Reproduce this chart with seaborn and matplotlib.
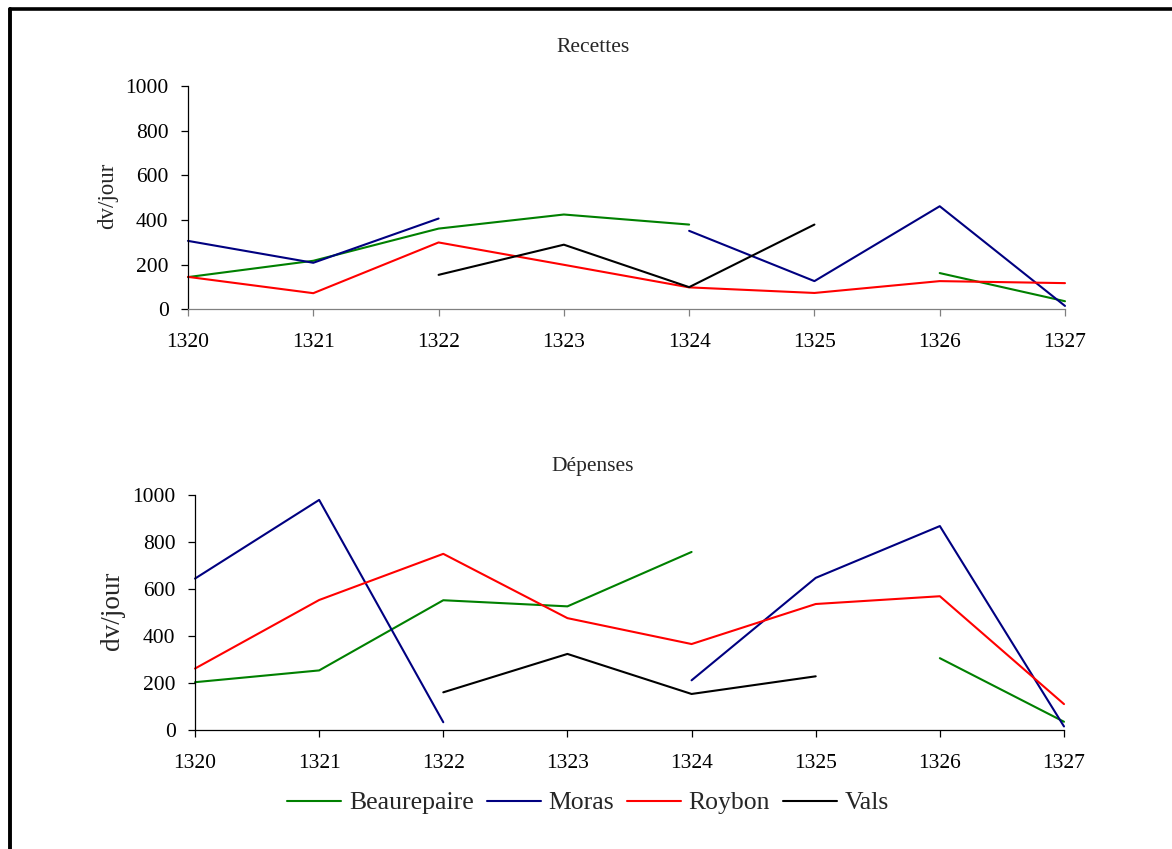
import numpy as np
import pandas as pd
import matplotlib
matplotlib.use("Agg")
import matplotlib.pyplot as plt
from matplotlib.lines import Line2D
import seaborn as sns

# --- data ---
years = [1320, 1321, 1322, 1323, 1324, 1325, 1326, 1327]
sites = ["Beaurepaire", "Moras", "Roybon", "Vals"]
nan = np.nan

rec_beaurepaire = [145, 218, 362, 425, 380, nan, 163, 37]
rec_moras = [307, 209, 407, nan, 352, 127, 462, 16]
rec_roybon = [146, 73, 300, 200, 99, 74, 127, 118]
rec_vals = [nan, nan, 155, 290, 100, 380, nan, nan]

dep_beaurepaire = [203, 253, 551, 525, 756, nan, 305, 35]
dep_moras = [643, 977, 33, nan, 211, 646, 866, 15]
dep_roybon = [261, 552, 748, 475, 365, 535, 568, 110]
dep_vals = [nan, nan, 160, 323, 153, 228, nan, nan]

colors = {"Beaurepaire": "#008000", "Moras": "#000080",
          "Roybon": "#FF0000", "Vals": "#000000"}


def long_frame(series):
    # one row per point, a new unit after every gap so lines break there
    rows = []
    for site, vals in zip(sites, series):
        seg = 0
        for yr, v in zip(years, vals):
            if np.isnan(v):
                seg += 1
                continue
            rows.append({"year": yr, "value": v, "site": site,
                         "unit": f"{site}-{seg}"})
    return pd.DataFrame(rows)


sns.set_theme(style="ticks")
plt.rcParams["font.family"] = ["Liberation Serif", "DejaVu Serif"]

fig = plt.figure(figsize=(11.72, 8.49), dpi=100)
W, H = 1172, 849


def px_axes(left, top, right, bottom):
    return fig.add_axes([left / W, 1 - bottom / H, (right - left) / W, (bottom - top) / H])


ax_top = px_axes(188, 86, 1065, 309.5)
ax_bot = px_axes(195, 494.5, 1064, 730)

panels = [
    (ax_top, [rec_beaurepaire, rec_moras, rec_roybon, rec_vals]),
    (ax_bot, [dep_beaurepaire, dep_moras, dep_roybon, dep_vals]),
]

for ax, series in panels:
    df = long_frame(series)
    sns.lineplot(data=df, x="year", y="value", hue="site", units="unit",
                 estimator=None, palette=colors, hue_order=sites,
                 linewidth=1.5, legend=False, ax=ax)
    for ln in ax.lines:
        ln.set_clip_on(False)
    ax.set_xlim(1320, 1327)
    ax.set_ylim(0, 1000)
    ax.set_xticks(years)
    ax.set_yticks(range(0, 1001, 200))
    ax.set_xlabel("")
    ax.set_ylabel("")
    sns.despine(ax=ax)
    for s in ["left", "bottom"]:
        ax.spines[s].set_linewidth(0.9)
        ax.spines[s].set_color("black")
    ax.tick_params(axis="both", direction="out", length=5, width=0.9,
                   labelsize=15.5, colors="black")
    ax.tick_params(axis="y", pad=9)
    ax.tick_params(axis="x", pad=12)

ax_top.spines["bottom"].set_color("#808080")
ax_top.tick_params(axis="x", color="#808080")

# titles and axis labels
fig.text(593 / W, 1 - 47 / H, "Recettes", ha="center", va="center", fontsize=15.5)
fig.text(593 / W, 1 - 467 / H, "Dépenses", ha="center", va="center", fontsize=15.5)
fig.text(108 / W, 1 - 196 / H, "dv/jour", rotation=90, ha="center", va="center", fontsize=16.5)
fig.text(112 / W, 1 - 611 / H, "dv/jour", rotation=90, ha="center", va="center", fontsize=19.5)

handles = [Line2D([], [], color=colors[s], lw=1.5) for s in sites]
fig.legend(handles, sites, loc="center", bbox_to_anchor=(588 / W, 1 - 803 / H),
           ncol=4, frameon=False, fontsize=18.5, handlelength=2.1,
           handletextpad=0.3, columnspacing=0.5)

# outer frame, cut at the right and bottom edges like the reference
fig.add_artist(Line2D([10 / W, 1.01], [1 - 8.5 / H, 1 - 8.5 / H], color="black",
                      lw=2.6, transform=fig.transFigure, clip_on=False))
fig.add_artist(Line2D([10 / W, 10 / W], [1 - 8.5 / H, -0.01], color="black",
                      lw=2.8, transform=fig.transFigure, clip_on=False))

fig.savefig("out.png", dpi=100, facecolor="white")
